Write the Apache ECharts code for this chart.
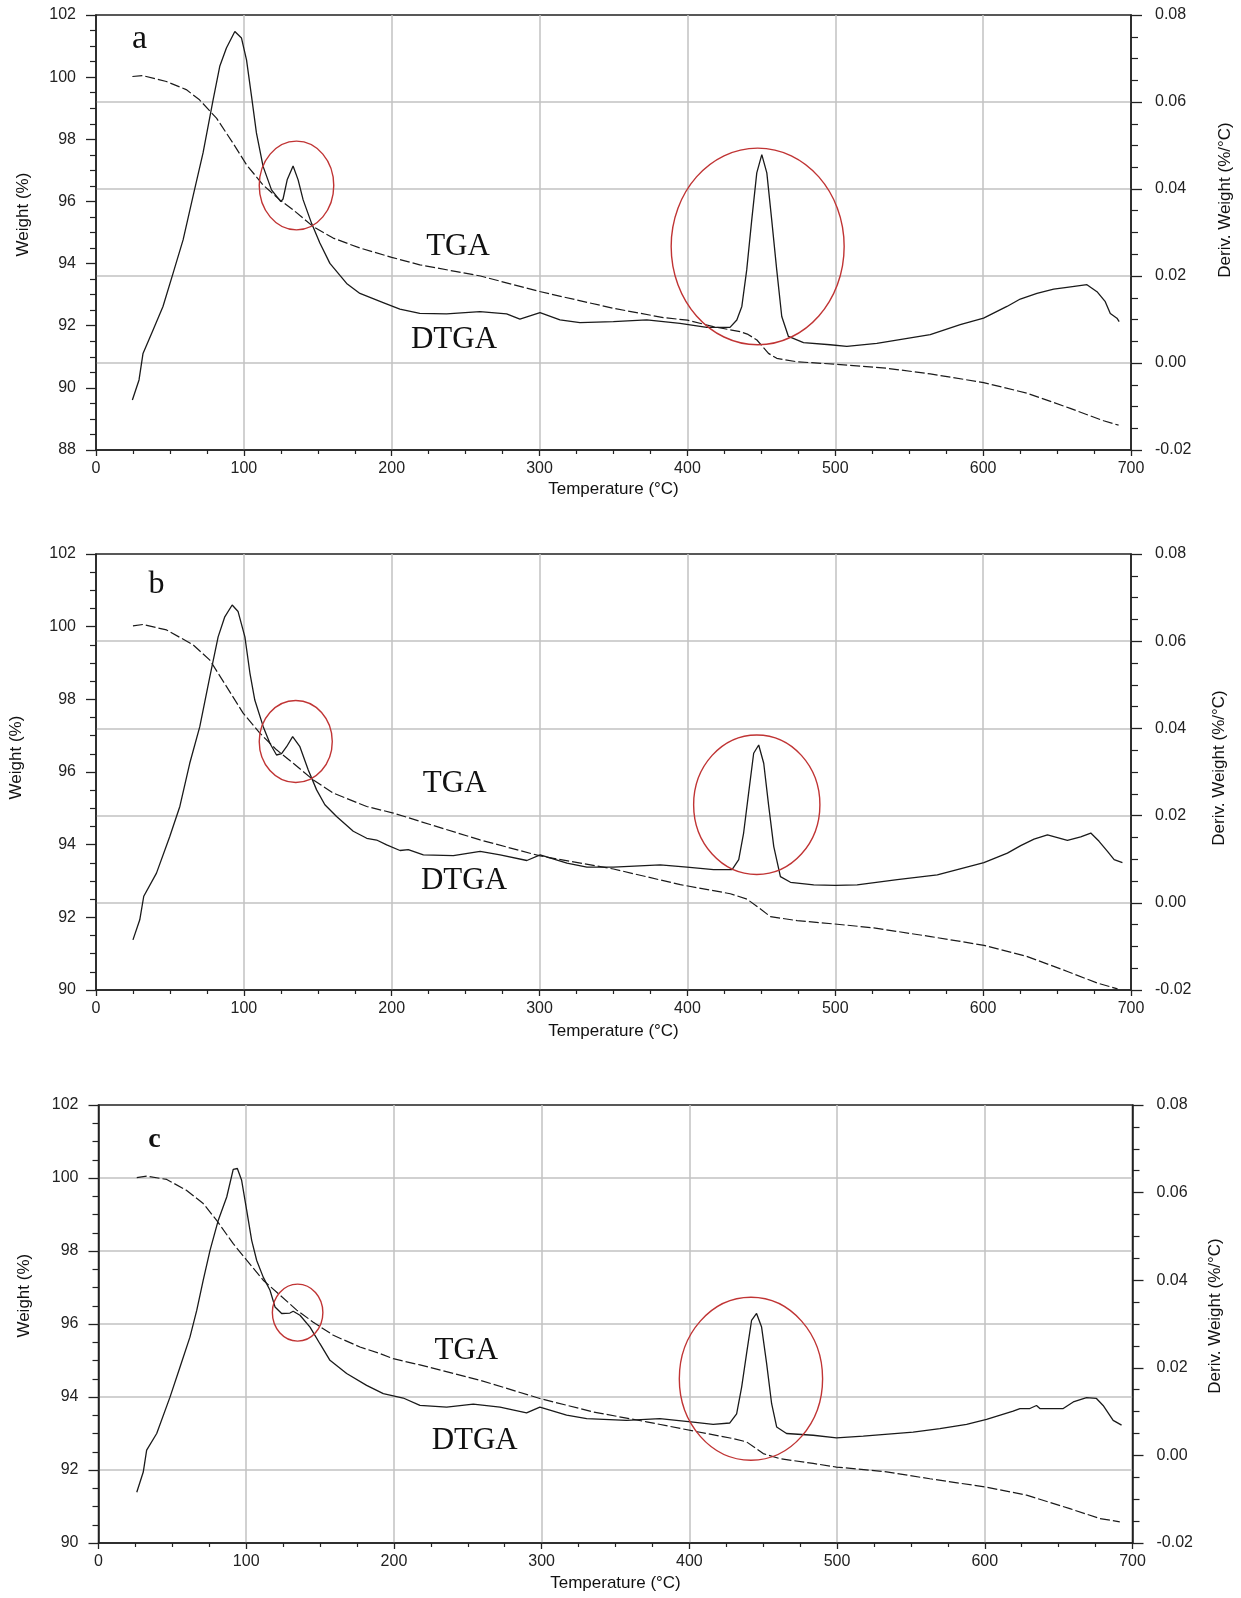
<!DOCTYPE html>
<html>
<head>
<meta charset="utf-8">
<script src="https://cdn.jsdelivr.net/npm/echarts@6/dist/echarts.min.js"></script>
<style>
  html, body { margin: 0; padding: 0; background: #fff; }
  #chart { width: 1241px; height: 1598px; }
</style>
</head>
<body>
<div id="chart"></div>
<script>
// ---- panel a ----
const tgaTempA = [24.6,31.6,47.6,61,70,81.5,92.6,101.8,113,124.3,133.3,146.9,160.4,178.5,200,219,243.9,260,300,350,383.7,400,417.5,435.6,441,447,454.8,460.4,474,500,534.9,564.2,600.3,629.6,658.9,681.5,691.6];
const tgaWeightA = [100.02,100.05,99.86,99.6,99.27,98.68,97.88,97.18,96.53,96.05,95.73,95.19,94.82,94.5,94.2,93.96,93.74,93.6,93.1,92.56,92.26,92.18,91.97,91.81,91.72,91.54,91.11,90.95,90.84,90.76,90.63,90.45,90.17,89.83,89.34,88.94,88.8];
const dtgaTempA = [24.6,29.1,31.8,38.6,45.3,52.1,58.9,65.6,72.4,79.2,83.7,88.2,93.9,98.4,101.8,105.2,108.5,113,118.7,125,126.5,129.3,133.3,136.7,140.1,145.8,151.4,158.2,169.5,178.5,194.2,205.5,219,237.1,259.7,277.7,286.7,300.3,313.8,327.3,349.9,372.5,395,413.1,428.8,433.4,436.8,440.1,443.5,446.9,450.3,453.7,457,460.4,463.8,468.3,478.5,496.5,507.8,528.1,564.2,584.5,600.3,616.1,625.1,636.4,647.7,656.7,670.2,677,682.6,686,690.5,692];
const dtgaDerivA = [-0.0085,-0.0039,0.0022,0.0076,0.013,0.0206,0.0283,0.0383,0.0483,0.0605,0.0682,0.0724,0.0762,0.0747,0.0697,0.0613,0.0529,0.0452,0.0398,0.0371,0.0377,0.0421,0.0453,0.0421,0.0375,0.0321,0.0276,0.0229,0.0183,0.016,0.0139,0.0124,0.0114,0.0113,0.0118,0.0113,0.0101,0.0116,0.0099,0.0093,0.0095,0.0099,0.0091,0.0082,0.0082,0.0099,0.013,0.0214,0.0329,0.0437,0.0479,0.0437,0.0329,0.0214,0.0107,0.0061,0.0047,0.0042,0.0038,0.0045,0.0065,0.0088,0.0103,0.013,0.0147,0.016,0.017,0.0174,0.018,0.0164,0.0141,0.0114,0.0103,0.0095];

// ---- panel b ----
const tgaTempB = [25,31.8,47.7,65.7,77,88.3,99.5,110.8,122.1,133.4,147,160.5,183.1,201.1,219.2,259.8,300.4,350,395.2,429,440.3,447.1,456.1,474.2,501.3,526,564.5,600.6,629.9,657,677.3,690.9];
const tgaWeightB = [100.02,100.06,99.91,99.5,99.08,98.35,97.62,97.07,96.61,96.24,95.78,95.42,95.05,94.87,94.64,94.13,93.69,93.33,92.9,92.65,92.5,92.3,92.02,91.91,91.81,91.71,91.47,91.23,90.92,90.51,90.19,90.03];
const dtgaTempB = [25,29.6,32.3,40.9,49.9,56.7,63.4,70.2,77,82.6,87.1,92.1,96.1,100.7,104.1,107.4,113.1,117.6,122.1,125.5,128.9,133,137.9,143.5,149.2,154.8,162.7,174,183.1,189.8,196.6,205.6,211.2,221.4,241.7,259.8,273.3,291.4,300.4,318.5,332,350,381.6,399.7,417.7,430.2,434.7,438,441.4,444.8,448.2,451.6,455,458.4,462.9,469.7,485.4,500,514.8,541.9,569,587,600.5,616.4,625.4,634.4,643.5,657,666,672.8,678.4,684.1,688.6,694.2];
const dtgaDerivB = [-0.0085,-0.0039,0.0015,0.0068,0.0152,0.0221,0.032,0.0404,0.0519,0.061,0.0656,0.0683,0.0668,0.061,0.0527,0.0465,0.0404,0.0366,0.0339,0.0342,0.0358,0.0381,0.0358,0.0305,0.0259,0.0225,0.0198,0.0164,0.0148,0.0144,0.0133,0.012,0.0122,0.011,0.0108,0.0118,0.011,0.0097,0.011,0.0091,0.0082,0.0082,0.0087,0.0082,0.0076,0.0076,0.0099,0.016,0.0252,0.0343,0.0362,0.032,0.0221,0.0129,0.006,0.0047,0.0041,0.004,0.0041,0.0053,0.0064,0.008,0.0092,0.0114,0.0131,0.0146,0.0156,0.0143,0.0151,0.016,0.0141,0.0118,0.0099,0.0092];

// ---- panel c ----
const tgaTempC = [25.9,32.6,46.2,59.7,70.9,80,91.2,100.3,111.5,122.9,134.2,145.4,159,177,190.5,199.5,217.6,258.2,298.8,334.9,371,402.6,429.7,438.7,450,461.3,483.8,499.6,533.5,562.8,601.2,628.3,657.6,677.9,691.4];
const tgaWeightC = [100.01,100.05,99.96,99.66,99.3,98.84,98.2,97.75,97.2,96.79,96.38,96.05,95.69,95.37,95.19,95.05,94.88,94.46,93.96,93.59,93.32,93.07,92.86,92.77,92.45,92.31,92.18,92.08,91.95,91.76,91.53,91.31,90.94,90.67,90.58];
const dtgaTempC = [25.9,30.3,32.6,39.4,48.4,55.2,61.9,66.5,70.9,75.5,81.1,86.8,91.2,94,96.9,100.3,103.7,107.1,111.5,116.1,119.5,124,129.6,131.8,136.4,143.2,149.9,156.7,168,181.5,192.8,206.3,217.6,235.7,253.7,271.8,289.8,298.8,316.9,330.5,357.5,380,402.6,416.1,427.4,432,435.4,438.7,442.1,445.5,448.9,452.3,455.7,459.1,465.8,483.8,499.6,517.7,551.5,569.6,587.7,601.2,619.2,623.8,630.5,635,637.3,653.1,659.9,668.9,675.6,680.1,686.9,692.6];
const dtgaDerivC = [-0.0084,-0.0038,0.0012,0.005,0.0133,0.0202,0.027,0.0331,0.04,0.0468,0.0537,0.059,0.0653,0.0655,0.0628,0.056,0.0491,0.0445,0.0407,0.0377,0.0339,0.0324,0.0325,0.0329,0.032,0.0293,0.0255,0.0217,0.0187,0.016,0.0141,0.0131,0.0114,0.011,0.0117,0.011,0.0097,0.011,0.0092,0.0084,0.008,0.0084,0.0076,0.0071,0.0074,0.0095,0.0156,0.0232,0.0308,0.0324,0.0293,0.021,0.0118,0.0065,0.005,0.0046,0.004,0.0044,0.0053,0.0061,0.0071,0.0082,0.0101,0.0107,0.0107,0.0114,0.0107,0.0107,0.0122,0.0132,0.013,0.0114,0.008,0.0069];

// red rings: [temperature, deriv, half width (°C), half height (%/°C)]
const ringsA = [[135.6, 0.0408, 25.2, 0.0102], [447.5, 0.0268, 58.5, 0.0226]];
const ringsB = [[135.1, 0.037, 24.7, 0.0094], [446.9, 0.0225, 42.7, 0.016]];
const ringsC = [[134.8, 0.0326, 17.1, 0.0065], [441.7, 0.0175, 48.5, 0.0186]];

const weightMin = [88, 90, 90];

const zip = (xs, ys) => xs.map((x, i) => [x, ys[i]]);
const INK = '#222';
const SANS = 'Liberation Sans, Arial, sans-serif';
const SERIF = 'Liberation Serif, Times New Roman, serif';
const gridLine = { show: true, showMinLine: false, showMaxLine: false, lineStyle: { color: '#c2c2c2', width: 1.5 } };

const panels = [
  { tga: zip(tgaTempA, tgaWeightA), dtga: zip(dtgaTempA, dtgaDerivA), rings: ringsA, gridOnLeft: false,
    grid: { left: 96, top: 15, width: 1035, height: 435 } },
  { tga: zip(tgaTempB, tgaWeightB), dtga: zip(dtgaTempB, dtgaDerivB), rings: ringsB, gridOnLeft: false,
    grid: { left: 96, top: 554, width: 1035, height: 436 } },
  { tga: zip(tgaTempC, tgaWeightC), dtga: zip(dtgaTempC, dtgaDerivC), rings: ringsC, gridOnLeft: true,
    grid: { left: 98.5, top: 1105, width: 1034, height: 438 } }
];

const grids = [], xAxes = [], yAxes = [], series = [];
panels.forEach((p, i) => {
  grids.push(Object.assign({ show: true, borderColor: INK, borderWidth: 1.5, backgroundColor: '#fff' }, p.grid));
  xAxes.push({
    type: 'value', gridIndex: i, min: 0, max: 700, interval: 100, position: 'bottom',
    axisLine: { show: true, onZero: false, lineStyle: { color: INK, width: 1.5 } },
    axisTick: { show: true, length: 6, lineStyle: { color: INK, width: 1.3 } },
    minorTick: { show: true, splitNumber: 4, length: 4, lineStyle: { color: INK, width: 1.2 } },
    axisLabel: { margin: 11, fontSize: 16, color: INK, fontFamily: SANS },
    splitLine: gridLine
  });
  yAxes.push({
    type: 'value', gridIndex: i, position: 'left', min: weightMin[i], max: 102, interval: 2,
    axisLine: { show: true, onZero: false, lineStyle: { color: INK, width: 1.5 } },
    axisTick: { show: true, length: 10, lineStyle: { color: INK, width: 1.3 } },
    minorTick: { show: true, splitNumber: 4, length: 6, lineStyle: { color: INK, width: 1.2 } },
    axisLabel: { margin: 20, fontSize: 16, color: INK, fontFamily: SANS },
    splitLine: p.gridOnLeft ? gridLine : { show: false }
  });
  yAxes.push({
    type: 'value', gridIndex: i, position: 'right', min: -0.02, max: 0.08, interval: 0.02,
    axisLine: { show: true, onZero: false, lineStyle: { color: INK, width: 1.5 } },
    axisTick: { show: true, length: 11, lineStyle: { color: INK, width: 1.3 } },
    minorTick: { show: true, splitNumber: 4, length: 7, lineStyle: { color: INK, width: 1.2 } },
    axisLabel: { margin: 24, fontSize: 16, color: INK, fontFamily: SANS,
      formatter: v => (Math.abs(v) < 1e-9 ? 0 : v).toFixed(2) },
    splitLine: p.gridOnLeft ? { show: false } : gridLine
  });
  series.push({
    name: 'TGA', type: 'line', xAxisIndex: i, yAxisIndex: 2 * i, data: p.tga,
    symbol: 'none', silent: true, z: 3,
    lineStyle: { color: '#1a1a1a', width: 1.2, type: [10, 3] }
  });
  series.push({
    name: 'DTGA', type: 'line', xAxisIndex: i, yAxisIndex: 2 * i + 1, data: p.dtga,
    symbol: 'none', silent: true, z: 4,
    lineStyle: { color: '#1a1a1a', width: 1.3 }
  });
});

const chart = echarts.init(document.getElementById('chart'), null, { renderer: 'canvas' });
chart.setOption({
  backgroundColor: '#ffffff',
  animation: false,
  grid: grids,
  xAxis: xAxes,
  yAxis: yAxes,
  series: series
});

function txt(text, x, y, size, family, opts) {
  return Object.assign({
    type: 'text', x: x, y: y, z: 20,
    style: { text: text, fontSize: size, fontFamily: family, fill: '#111', align: 'center', verticalAlign: 'middle' }
  }, opts || {});
}

const elements = [];
// panel letters and curve names
elements.push(txt('a', 139.5, 38.6, 34, SERIF));
elements.push(txt('b', 156.5, 585, 32, SERIF));
elements.push(txt('c', 154.5, 1139.5, 28, SERIF, {}));
elements[elements.length - 1].style.fontWeight = 'bold';
[[458, 246.5, 454, 339.5], [454.7, 783.5, 464, 880.5], [466.3, 1350.5, 474.7, 1440.5]].forEach(t => {
  elements.push(txt('TGA', t[0], t[1], 31, SERIF));
  elements.push(txt('DTGA', t[2], t[3], 31, SERIF));
});
// axis titles
[[489.5, 23.3, 214.5, 1225, 200], [1031, 16.3, 757.5, 1219, 768], [1583, 24, 1295.7, 1215, 1316]].forEach((t, i) => {
  const g = panels[i].grid;
  elements.push(txt('Temperature (°C)', g.left + g.width / 2, t[0], 17, SANS));
  elements.push(txt('Weight (%)', t[1], t[2], 17, SANS, { rotation: Math.PI / 2 }));
  elements.push(txt('Deriv. Weight (%/°C)', t[3], t[4], 17, SANS, { rotation: Math.PI / 2 }));
});
// red rings through the axes' scales
panels.forEach((p, i) => {
  p.rings.forEach(r => {
    const cx = chart.convertToPixel({ xAxisIndex: i }, r[0]);
    const cy = chart.convertToPixel({ yAxisIndex: 2 * i + 1 }, r[1]);
    const rx = Math.abs(chart.convertToPixel({ xAxisIndex: i }, r[0] + r[2]) - cx);
    const ry = Math.abs(chart.convertToPixel({ yAxisIndex: 2 * i + 1 }, r[1] + r[3]) - cy);
    elements.push({
      type: 'ellipse', z: 15, silent: true,
      shape: { cx: cx, cy: cy, rx: rx, ry: ry },
      style: { fill: 'none', stroke: '#c03434', lineWidth: 1.4 }
    });
  });
});
chart.setOption({ graphic: { elements: elements } });
</script>
</body>
</html>
